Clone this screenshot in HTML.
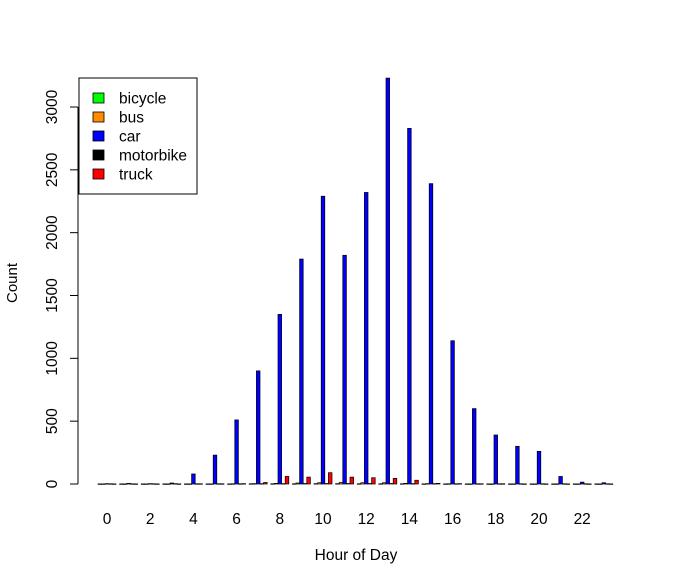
<!DOCTYPE html>
<html><head><meta charset="utf-8"><style>
html,body{margin:0;padding:0;background:#fff}
svg{display:block;font-family:"Liberation Sans",Arial,sans-serif}
</style></head><body>
<svg id="chart" width="673" height="586">
<g id="yaxis"></g>
<g id="bars"></g>
<g id="xlabels"></g>
<text x="17" y="283" transform="rotate(-90 17 283)" text-anchor="middle" font-size="15">Count</text>
<text x="356" y="560" text-anchor="middle" font-size="15.5">Hour of Day</text>
<g>
<rect x="79" y="78" width="118" height="116" fill="#fff" stroke="#000"/>
<g id="legend"></g>
</g>
</svg>
<script>
const hours = [0,1,2,3,4,5,6,7,8,9,10,11,12,13,14,15,16,17,18,19,20,21,22,23];
const seriesNames = ["bicycle","bus","car","motorbike","truck"];
const seriesColors = ["#00ff00","#ff8c00","#0000ff","#000000","#ff0000"];
const bicycle = [1,1,1,1,1,1,1,2,2,2,3,3,2,2,2,1,1,1,1,1,1,1,1,1];
const bus = [1,1,1,1,1,1,2,3,5,8,10,12,10,10,5,3,2,1,1,1,1,1,1,1];
const car = [3,5,3,8,80,230,510,900,1350,1790,2290,1820,2320,3230,2830,2390,1140,600,390,300,260,60,15,10];
const motorbike = [2,2,2,3,2,2,2,3,3,4,4,4,4,4,3,3,2,2,2,2,2,2,2,2];
const truck = [1,1,1,1,2,2,3,12,60,55,90,55,50,45,30,5,3,2,2,1,1,1,1,1];
const yTicks = [0,500,1000,1500,2000,2500,3000];
const xLabelHours = [0,2,4,6,8,10,12,14,16,18,20,22];
const series = [bicycle,bus,car,motorbike,truck];
const NS="http://www.w3.org/2000/svg";
const unit=3.6, x0=94.4, y0=484, yScale=377/3000;
const yPos=v=>y0-v*yScale;
const barX=(h,s)=>x0+(h*6+1+s)*unit;
function mk(tag,attrs,parent){const e=document.createElementNS(NS,tag);for(const k in attrs)e.setAttribute(k,attrs[k]);parent.appendChild(e);return e;}
const bars=document.getElementById('bars');
hours.forEach((h,i)=>{series.forEach((arr,s)=>{
 const y=yPos(arr[i]);
 const r=mk('rect',{x:barX(i,s),y:y,width:unit,height:Math.max(y0-y,0.5),fill:seriesColors[s],stroke:'#000','stroke-width':0.7},bars);
 
 
});});
const ya=document.getElementById('yaxis');
mk('line',{x1:78,x2:78,y1:yPos(0),y2:yPos(3000),stroke:'#000'},ya);
yTicks.forEach(t=>{
 mk('line',{x1:70,x2:78,y1:yPos(t),y2:yPos(t),stroke:'#000'},ya);
 const tx=mk('text',{x:57,y:yPos(t),transform:`rotate(-90 57 ${yPos(t)})`,'text-anchor':'middle','font-size':15.5},ya);
 tx.textContent=t;
 
 
});
const xl=document.getElementById('xlabels');
xLabelHours.forEach(h=>{
 const tx=mk('text',{x:barX(h,2)+unit/2,y:524,'text-anchor':'middle','font-size':15.5},xl);
 tx.textContent=h;
 
 
});
const lg=document.getElementById('legend');
seriesNames.forEach((n,i)=>{
 const y=98+i*19;
 const r=mk('rect',{x:93,y:y-5,width:11,height:10,fill:seriesColors[i],stroke:'#000','stroke-width':0.8},lg);
 
 
 const t=mk('text',{x:119,y:y+5.5,'font-size':15.5},lg);
 t.textContent=n;
 
 
});
</script>
</body></html>
